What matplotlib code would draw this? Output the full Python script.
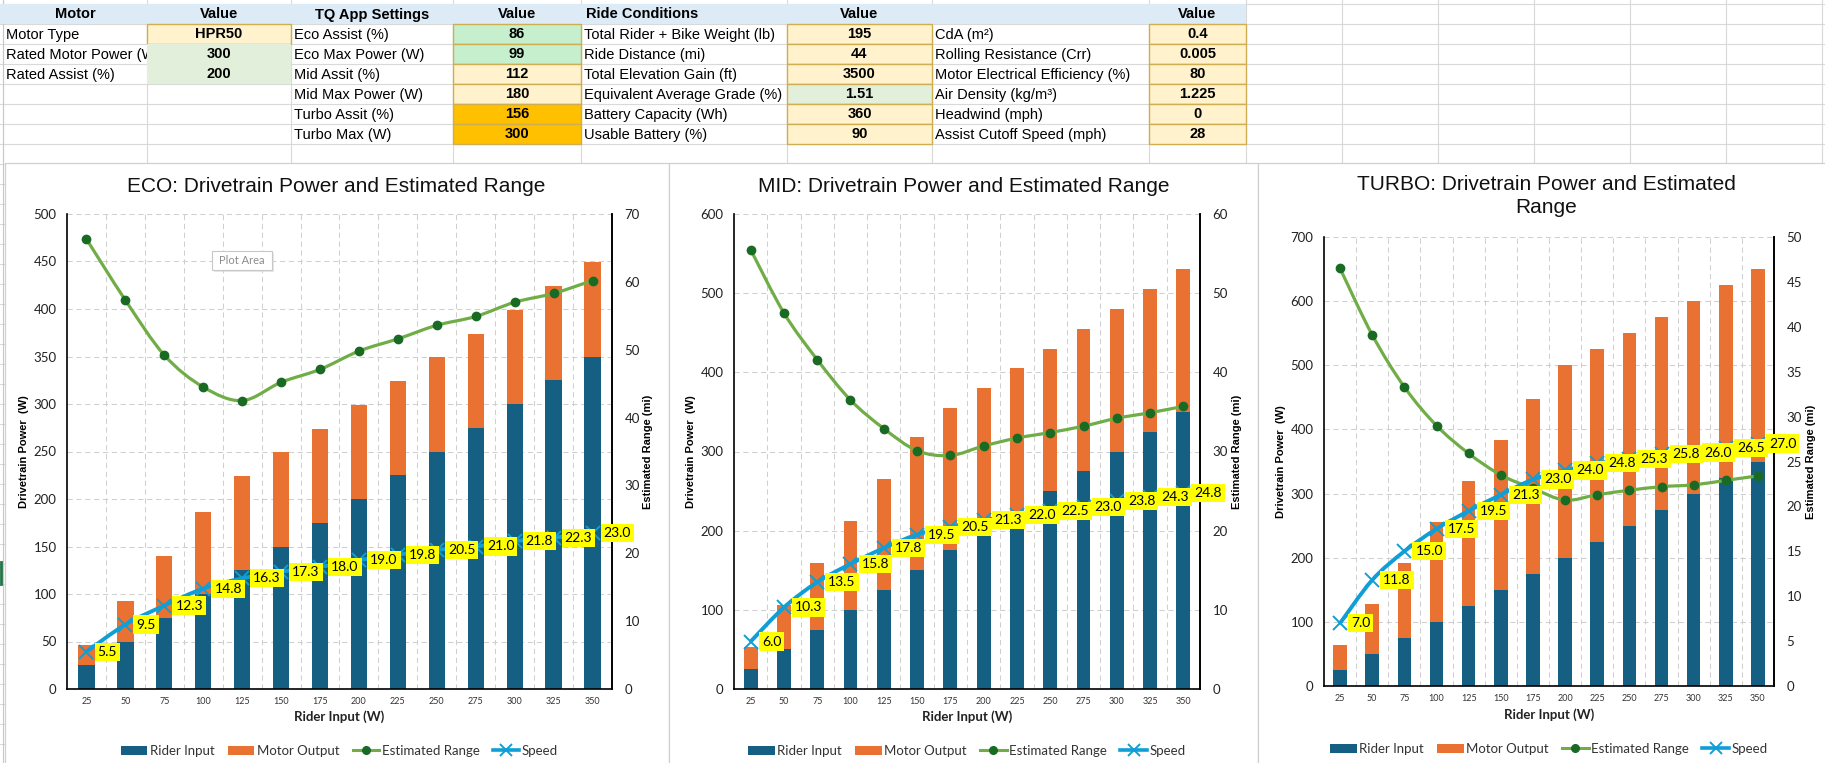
import numpy as np
import matplotlib
matplotlib.use("Agg")
import matplotlib.pyplot as plt
from matplotlib.patches import Rectangle, PathPatch, Patch
from matplotlib.path import Path
from matplotlib.lines import Line2D

W, H = 1825, 763

# ---- spreadsheet inputs ----
motor_labels = ["Motor Type", "Rated Motor Power (W)", "Rated Assist (%)"]
motor_values = ["HPR50", "300", "200"]
tq_labels = ["Eco Assist (%)", "Eco Max Power (W)", "Mid Assit (%)",
             "Mid Max Power (W)", "Turbo Assit (%)", "Turbo Max (W)"]
tq_values = ["86", "99", "112", "180", "156", "300"]
ride_labels = ["Total Rider + Bike Weight (lb)", "Ride Distance (mi)",
               "Total Elevation Gain (ft)", "Equivalent Average Grade (%)",
               "Battery Capacity (Wh)", "Usable Battery (%)"]
ride_values = ["195", "44", "3500", "1.51", "360", "90"]
phys_labels = ["CdA (m²)", "Rolling Resistance (Crr)", "Motor Electrical Efficiency (%)",
               "Air Density (kg/m³)", "Headwind (mph)", "Assist Cutoff Speed (mph)"]
phys_values = ["0.4", "0.005", "80", "1.225", "0", "28"]

# ---- chart data ----
rider_input = [25, 50, 75, 100, 125, 150, 175, 200, 225, 250, 275, 300, 325, 350]
eco_motor = [21.5, 43, 64.5, 86, 99, 99, 99, 99, 99, 99, 99, 99, 99, 99]
mid_motor = [28, 56, 84, 112, 140, 168, 180, 180, 180, 180, 180, 180, 180, 180]
turbo_motor = [39, 78, 117, 156, 195, 234, 273, 300, 300, 300, 300, 300, 300, 300]
eco_range = [66.3, 57.3, 49.2, 44.5, 42.5, 45.2, 47.1, 49.8, 51.6, 53.6, 54.9, 57.0, 58.3, 60.2]
mid_range = [55.5, 47.5, 41.6, 36.5, 32.9, 30.1, 29.5, 30.7, 31.7, 32.4, 33.2, 34.2, 34.9, 35.7]
turbo_range = [46.5, 39.1, 33.3, 29.0, 25.9, 23.5, 22.0, 20.7, 21.3, 21.8, 22.2, 22.4, 22.9, 23.4]
eco_speed = [5.5, 9.5, 12.3, 14.8, 16.3, 17.3, 18.0, 19.0, 19.8, 20.5, 21.0, 21.8, 22.3, 23.0]
mid_speed = [6.0, 10.3, 13.5, 15.8, 17.8, 19.5, 20.5, 21.3, 22.0, 22.5, 23.0, 23.8, 24.3, 24.8]
turbo_speed = [7.0, 11.8, 15.0, 17.5, 19.5, 21.3, 23.0, 24.0, 24.8, 25.3, 25.8, 26.0, 26.5, 27.0]

BLUE, ORANGE = "#156082", "#E97132"
GREEN, DKGREEN, CYAN = "#70AD47", "#196B24", "#0F9ED5"
GRID = "#D9D9D9"
GOLD = "#CFAE52"
SHEET_FONT = "Liberation Sans"

plt.rcParams["font.family"] = ["Lato", "DejaVu Sans"]

fig = plt.figure(figsize=(W / 100, H / 100), dpi=100, facecolor="white")
bg = fig.add_axes([0, 0, 1, 1])
bg.set_xlim(0, W)
bg.set_ylim(H, 0)
bg.axis("off")

# spreadsheet grid
cols = [3, 147, 291, 453, 581, 787, 932, 1149, 1246, 1342, 1438, 1534, 1630, 1726, 1822]
for y in range(4, H, 20):
    bg.plot([0, W], [y, y], color=GRID, lw=0.8, zorder=1)
for c in cols:
    bg.plot([c, c], [0, 163], color=GRID, lw=0.8, zorder=1)
bg.plot([3, 3], [0, H], color="#C8C8C8", lw=0.8, zorder=1)
bg.plot([0.8, 0.8], [562, 584], color="#217346", lw=2, zorder=1)

# header row
bg.add_patch(Rectangle((0, 4), 1246, 20, fc="#DDEBF7", ec="none", zorder=2))
headers = [("Motor", 75, "center"), ("Value", 219, "center"), ("TQ App Settings", 372, "center"),
           ("Value", 517, "center"), ("Ride Conditions", 586, "left"),
           ("Value", 859, "center"), ("Value", 1197, "center")]
for txt, x, ha in headers:
    bg.text(x, 14.5, txt, ha=ha, va="center", fontsize=10.5, fontweight="bold",
            family=SHEET_FONT, zorder=5)


def sheet_block(labels, values, fills, borders, c_lab, c_val, c_end):
    for i, (lab, val) in enumerate(zip(labels, values)):
        top = 24 + 20 * i
        bg.text(c_lab + 3, top + 10.5, lab, ha="left", va="center", fontsize=10.5,
                family=SHEET_FONT, zorder=3)
        bg.add_patch(Rectangle((c_val, top), c_end - c_val, 20, fc=fills[i],
                               ec=GOLD if borders[i] else "none", lw=1.0, zorder=4))
        bg.text((c_val + c_end) / 2, top + 10.5, val, ha="center", va="center",
                fontsize=10.5, fontweight="bold", family=SHEET_FONT, zorder=5)


sheet_block(motor_labels, motor_values, ["#FFF2CC", "#E2EFDA", "#E2EFDA"],
            [True, False, False], cols[0], cols[1], cols[2])
sheet_block(tq_labels, tq_values, ["#C6EFCE", "#C6EFCE", "#FFF2CC", "#FFF2CC", "#FFC000", "#FFC000"],
            [True] * 6, cols[2], cols[3], cols[4])
sheet_block(ride_labels, ride_values, ["#FFF2CC"] * 3 + ["#E2EFDA"] + ["#FFF2CC"] * 2,
            [True] * 6, cols[4], cols[5], cols[6])
sheet_block(phys_labels, phys_values, ["#FFF2CC"] * 6, [True] * 6, cols[6], cols[7], cols[8])

# chart boxes
for x0, x1 in [(5, 669), (669, 1258), (1258, 1860)]:
    bg.add_patch(Rectangle((x0, 163), x1 - x0, 620, fc="white", ec="#D0D0D0", lw=0.9, zorder=6))


def smooth_path(x, y):
    # cubic Bezier through the points, like Excel's "smoothed line"
    x = np.asarray(x, float)
    y = np.asarray(y, float)
    n = len(x)
    verts = [(x[0], y[0])]
    codes = [Path.MOVETO]
    for i in range(n - 1):
        xp, yp = (x[i - 1], y[i - 1]) if i > 0 else (x[i], y[i])
        xn, yn = (x[i + 2], y[i + 2]) if i + 2 < n else (x[i + 1], y[i + 1])
        verts += [(x[i] + (x[i + 1] - xp) / 6, y[i] + (y[i + 1] - yp) / 6),
                  (x[i + 1] - (xn - x[i]) / 6, y[i + 1] - (yn - y[i]) / 6),
                  (x[i + 1], y[i + 1])]
        codes += [Path.CURVE4] * 3
    return Path(verts, codes)


legend_handles = [Patch(fc=BLUE), Patch(fc=ORANGE),
                  Line2D([], [], color=GREEN, lw=2.2, marker="o", ms=5.5, mfc=DKGREEN, mec=DKGREEN),
                  Line2D([], [], color=CYAN, lw=2.6, marker="x", ms=9, mew=1.4)]
legend_labels = ["Rider Input", "Motor Output", "Estimated Range", "Speed"]


def draw_chart(plot_box, motor, rng, speed, ymax, ystep, rmax, rstep,
               title, title_xy, ylab_x, xlab_y, leg_y):
    left, top, right, bottom = plot_box
    ax = fig.add_axes([left / W, 1 - bottom / H, (right - left) / W, (bottom - top) / H])
    ax.set_zorder(2)
    ax.patch.set_alpha(0)
    x = np.arange(len(rider_input))
    ax.bar(x, rider_input, width=0.42, color=BLUE, zorder=2)
    ax.bar(x, motor, width=0.42, bottom=rider_input, color=ORANGE, zorder=2)
    ax.set_xlim(-0.5, len(x) - 0.5)
    ax.set_ylim(0, ymax)
    ax.set_yticks(np.arange(0, ymax + 1, ystep))
    ax.set_xticks(x)
    ax.set_xticklabels([str(v) for v in rider_input])
    for b in x[:-1] + 0.5:
        ax.axvline(b, color="#CFCFCF", lw=0.75, ls=(0, (5, 3.5)), zorder=1)
    ax.yaxis.grid(True, color="#CFCFCF", lw=0.75, ls=(0, (5, 3.5)), zorder=1)
    ax.set_axisbelow(True)
    ax.tick_params(axis="y", length=0, pad=7.5, labelsize=9.5, labelcolor="#222222")
    ax.tick_params(axis="x", length=0, pad=5.5, labelsize=6.5, labelcolor="#333333")
    ax.spines["top"].set_visible(False)
    for s in ("left", "bottom", "right"):
        ax.spines[s].set_linewidth(1.2)
        ax.spines[s].set_color("black")

    ax2 = ax.twinx()
    ax2.set_ylim(0, rmax)
    ax2.set_yticks(np.arange(0, rmax + 0.1, rstep))
    ax2.tick_params(axis="y", length=0, pad=9, labelsize=9.5, labelcolor="#222222")
    ax2.spines["top"].set_visible(False)
    ax2.spines["right"].set_linewidth(1.2)
    ax2.spines["left"].set_visible(False)
    ax2.spines["bottom"].set_visible(False)

    ax2.add_patch(PathPatch(smooth_path(x, rng), fill=False, ec=GREEN, lw=2.3, zorder=3))
    ax2.plot(x, rng, "o", ms=6, color=DKGREEN, zorder=4)
    ax2.add_patch(PathPatch(smooth_path(x, speed), fill=False, ec=CYAN, lw=2.8, zorder=5))
    ax2.plot(x, speed, "x", ms=10, mew=1.4, color=CYAN, zorder=6)
    for xi, s in zip(x, speed):
        ax2.annotate(f"{s:.1f}", (xi, s), xytext=(8, 0), textcoords="offset points",
                     ha="left", va="center", fontsize=10, color="black", zorder=7,
                     annotation_clip=False,
                     bbox=dict(boxstyle="square,pad=0.22", fc="#FFFF00", ec="none"))

    cx = (left + right) / 2
    fig.text(title_xy[0] / W, 1 - title_xy[1] / H, title, ha="center", va="center",
             fontsize=15, family=SHEET_FONT, color="#111111", linespacing=1.25)
    fig.text(ylab_x[0] / W, 1 - (top + bottom) / 2 / H, "Drivetrain Power  (W)", rotation=90,
             ha="center", va="center", fontsize=8, fontweight="bold", family=SHEET_FONT)
    fig.text(ylab_x[1] / W, 1 - (top + bottom) / 2 / H, "Estimated Range (mi)", rotation=90,
             ha="center", va="center", fontsize=8, fontweight="bold", family=SHEET_FONT)
    fig.text(cx / W, 1 - xlab_y / H, "Rider Input (W)", ha="center", va="center",
             fontsize=9.5, fontweight="bold", color="#222222")
    fig.legend(legend_handles, legend_labels, loc="center", bbox_to_anchor=(cx / W, 1 - leg_y / H),
               ncol=4, frameon=False, fontsize=9.5, handlelength=2.0, handletextpad=0.2,
               columnspacing=1.0, borderpad=0, labelcolor="#333333")
    return ax


draw_chart((67, 214, 612, 689), eco_motor, eco_range, eco_speed, 500, 50, 70, 10,
           "ECO: Drivetrain Power and Estimated Range", (336, 187), (24, 648), 717, 751)
draw_chart((734, 214, 1200, 689), mid_motor, mid_range, mid_speed, 600, 100, 60, 10,
           "MID: Drivetrain Power and Estimated Range", (964, 187), (691, 1237), 717, 751)
draw_chart((1324, 237, 1774, 686), turbo_motor, turbo_range, turbo_speed, 700, 100, 50, 5,
           "TURBO: Drivetrain Power and Estimated\nRange", (1546, 196), (1281, 1811), 715, 749)

# Excel hover tooltip left on the ECO plot area
ov = fig.add_axes([0, 0, 1, 1], facecolor="none")
ov.set_zorder(10)
ov.set_xlim(0, W)
ov.set_ylim(H, 0)
ov.axis("off")
ov.add_patch(Rectangle((214, 253), 60, 19, fc="#D8D8D8", ec="none", alpha=0.6))
ov.add_patch(Rectangle((212, 251), 60, 19, fc="white", ec="#C8C8C8", lw=0.8))
ov.text(242, 260.5, "Plot Area", ha="center", va="center", fontsize=8, color="#8C8C8C")

fig.savefig("out.png", dpi=100, facecolor="white")
